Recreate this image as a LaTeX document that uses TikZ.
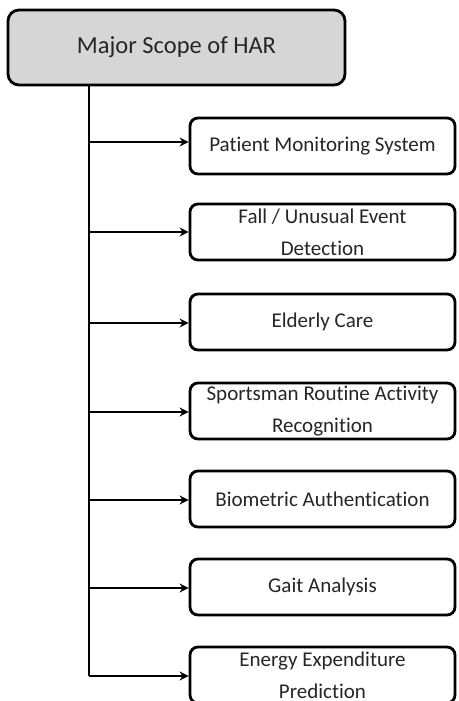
\documentclass[tikz,border=0pt]{standalone}
\usepackage{fontspec}
\setmainfont[Ligatures=NoCommon]{Carlito}
\usetikzlibrary{arrows.meta}
\begin{document}
\begin{tikzpicture}[x=1pt,y=-1pt,
  rootbox/.style={draw=black, line width=2.8pt, rounded corners=11pt, fill=black!16,
    minimum width=337pt, minimum height=75pt, inner sep=0pt, text=black!85,
    font=\fontsize{24.5}{29}\selectfont},
  itembox/.style={draw=black, line width=2.8pt, rounded corners=8pt, fill=white,
    minimum width=265pt, minimum height=56pt, inner sep=0pt, align=center, text=black!85,
    font=\fontsize{21}{32}\selectfont},
  link/.style={line width=2.8pt, -{Stealth[length=9pt,width=9pt]}}]
\clip (0,0) rectangle (458,701);
\fill[white] (0,0) rectangle (458,701);

\node[rootbox] (root) at (176.5,47.5) {Major Scope of HAR};

\node[itembox] (b1) at (322.5,146) {Patient Monitoring System};
\node[itembox] (b2) at (322.5,232) {Fall / Unusual Event\\Detection};
\node[itembox] (b3) at (322.5,322) {Elderly Care};
\node[itembox] (b4) at (322.5,411) {Sportsman Routine Activity\\Recognition};
\node[itembox] (b5) at (322.5,499) {Biometric Authentication};
\node[itembox] (b6) at (322.5,587) {Gait Analysis};
\node[itembox] (b7) at (322.5,675) {Energy Expenditure\\Prediction};

% trunk line from the root box
\coordinate (top) at (89,85);
\coordinate (bot) at (89,676);
\draw[line width=2.8pt] (top) -- (bot);

% branches
\foreach \b/\yy in {b1/142,b2/232,b3/323,b4/412,b5/500,b6/588,b7/676}{
  \coordinate (s\b) at (89,\yy);
  \draw[link] (s\b) -- (s\b -| \b.west);
}
\end{tikzpicture}
\end{document}
